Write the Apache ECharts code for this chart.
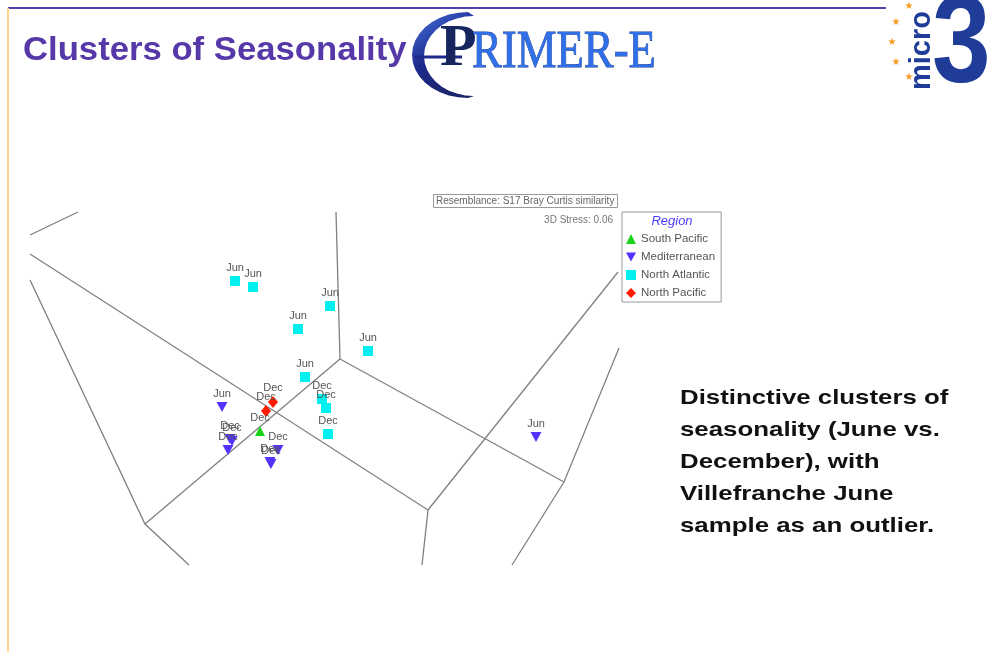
<!DOCTYPE html>
<html lang="en">
<head>
    <meta charset="UTF-8">
    <title>Clusters of Seasonality</title>
    <style type="text/css">
        *{ margin: 0; padding: 0; }
        html, body { width: 100%; height: 100%; background: #fff; }
        #chart { width: 987px; height: 652px; }
    </style>
</head>
<body>
<div id="chart"></div>
<script src="https://cdn.jsdelivr.net/npm/echarts@6/dist/echarts.min.js"></script>
<script>
    // 3D MDS ordination, projected coordinates
    // [x, y, label]
    var southPacific = [
        [-0.68, -0.46, 'Dec']
    ];
    var mediterranean = [
        [-1.06, -0.22, 'Jun'],
        [-0.98, -0.54, 'Dec'],
        [-0.96, -0.56, 'Dec'],
        [-1.00, -0.65, 'Dec'],
        [-0.50, -0.65, 'Dec'],
        [-0.58, -0.77, 'Dec'],
        [-0.57, -0.79, 'Dec'],
        [2.08, -0.52, 'Jun']
    ];
    var northAtlantic = [
        [-0.93, 1.04, 'Jun'],
        [-0.75, 0.98, 'Jun'],
        [0.02, 0.79, 'Jun'],
        [-0.30, 0.56, 'Jun'],
        [0.40, 0.34, 'Jun'],
        [-0.23, 0.08, 'Jun'],
        [-0.06, -0.14, 'Dec'],
        [-0.02, -0.23, 'Dec'],
        [0.00, -0.49, 'Dec']
    ];
    var northPacific = [
        [-0.55, -0.17, 'Dec'],
        [-0.62, -0.26, 'Dec']
    ];

    // edges of the 3D axis box, as projected polylines
    var boxEdges = [
        [[-2.98, 1.50], [-2.50, 1.73]],
        [[-2.98, 1.31], [1.00, -1.25], [0.94, -1.80]],
        [[-2.98, 1.05], [-1.83, -1.39], [-1.39, -1.80]],
        [[-1.83, -1.39], [0.12, 0.26]],
        [[0.08, 1.73], [0.12, 0.26]],
        [[0.12, 0.26], [2.36, -0.97]],
        [[2.91, 0.37], [2.36, -0.97], [1.84, -1.80]],
        [[1.00, -1.25], [2.90, 1.13]]
    ];

    var regions = ['South Pacific', 'Mediterranean', 'North Atlantic', 'North Pacific'];

    var FONT = '"Liberation Sans", Arial, sans-serif';
    var SERIF = '"Liberation Serif", "DejaVu Serif", serif';
    var downTri = 'path://M0,0 L10,0 L5,9 Z';

    function pts(arr) {
        return arr.map(function (d) { return { value: [d[0], d[1]], name: d[2] }; });
    }

    // crescent of the PRIMER-E logo
    function crescent() {
        var p = [], a;
        for (a = 270; a >= 90; a -= 10) {
            var r = a * Math.PI / 180;
            p.push([468 + 56 * Math.cos(r), 55 + 43 * Math.sin(r)]);
        }
        for (a = 90; a <= 270; a += 10) {
            var r2 = a * Math.PI / 180;
            p.push([474 + 50 * Math.cos(r2), 56 + 40 * Math.sin(r2)]);
        }
        return p;
    }

    function star(x, y) {
        return { type: 'text', x: x, y: y,
                 style: { text: '★', font: '10px "DejaVu Sans"', fill: '#f59a20', align: 'center', verticalAlign: 'middle' } };
    }

    var pointLabel = {
        show: true,
        position: 'top',
        distance: 3,
        formatter: '{b}',
        fontFamily: FONT,
        fontSize: 11,
        color: '#555'
    };

    var myChart = echarts.init(document.getElementById('chart'));

    var option = {
        backgroundColor: '#fff',
        animation: false,
        grid: { left: 28, top: 200, width: 600, height: 370 },
        xAxis: { type: 'value', min: -3, max: 3, show: false },
        yAxis: { type: 'value', min: -1.85, max: 1.85, show: false },
        legend: {
            orient: 'vertical',
            left: 622, top: 212,
            padding: [21, 6, 3, 4],
            itemWidth: 10, itemHeight: 10, itemGap: 6,
            borderColor: '#999', borderWidth: 1,
            textStyle: { fontFamily: FONT, fontSize: 11.5, color: '#555' },
            data: [
                { name: regions[0], icon: 'triangle' },
                { name: regions[1], icon: downTri },
                { name: regions[2], icon: 'rect' },
                { name: regions[3], icon: 'diamond' }
            ]
        },
        series: [
            {
                type: 'lines',
                coordinateSystem: 'cartesian2d',
                polyline: true,
                silent: true,
                lineStyle: { color: '#808080', width: 1.3, opacity: 1 },
                data: boxEdges.map(function (c) { return { coords: c }; }),
                z: 1
            },
            {
                name: regions[2], type: 'scatter', symbol: 'rect', symbolSize: 10,
                itemStyle: { color: '#00f0f0', opacity: 1 }, label: pointLabel,
                data: pts(northAtlantic), z: 3
            },
            {
                name: regions[1], type: 'scatter', symbol: downTri, symbolSize: [11, 10],
                itemStyle: { color: '#5533ff', opacity: 1 }, label: pointLabel,
                data: pts(mediterranean), z: 3
            },
            {
                name: regions[0], type: 'scatter', symbol: 'triangle', symbolSize: 10,
                itemStyle: { color: '#19d419', opacity: 1 }, label: pointLabel,
                data: pts(southPacific), z: 3
            },
            {
                name: regions[3], type: 'scatter', symbol: 'diamond', symbolSize: [10, 12],
                itemStyle: { color: '#ff1a00', opacity: 1 }, label: pointLabel,
                data: pts(northPacific), z: 3
            }
        ],
        graphic: [
            // slide frame
            { type: 'line', shape: { x1: 8, y1: 8, x2: 886, y2: 8 }, style: { stroke: '#5140b0', lineWidth: 2 } },
            { type: 'line', shape: { x1: 8, y1: 8, x2: 8, y2: 652 }, style: { stroke: '#ffd58a', lineWidth: 2 } },
            // slide title
            { type: 'text', x: 23, y: 51, scaleX: 1.02,
              style: { text: 'Clusters of Seasonality', font: 'bold 34px ' + FONT, fill: '#5638a8', verticalAlign: 'middle' } },
            // plot annotations
            { type: 'rect', shape: { x: 433.5, y: 194.5, width: 184, height: 13 },
              style: { fill: '#fff', stroke: '#999', lineWidth: 1 } },
            { type: 'text', x: 436, y: 201,
              style: { text: 'Resemblance: S17 Bray Curtis similarity', font: '10px ' + FONT, fill: '#666', verticalAlign: 'middle' } },
            { type: 'text', x: 613, y: 220,
              style: { text: '3D Stress: 0.06', font: '10px ' + FONT, fill: '#777', align: 'right', verticalAlign: 'middle' } },
            { type: 'text', x: 672, y: 221,
              style: { text: 'Region', font: 'italic 13px ' + FONT, fill: '#4a3cff', align: 'center', verticalAlign: 'middle' } },
            // side note
            { type: 'text', x: 680, y: 382, scaleX: 1.23,
              style: { text: 'Distinctive clusters of\nseasonality (June vs.\nDecember), with\nVillefranche June\nsample as an outlier.',
                       font: 'bold 21px ' + FONT, fill: '#111', lineHeight: 32, verticalAlign: 'top' } },
            // PRIMER-E logo
            { type: 'polygon', shape: { points: crescent() },
              style: { fill: new echarts.graphic.LinearGradient(0, 0, 1, 1, [
                  { offset: 0, color: '#4a78e8' }, { offset: 0.45, color: '#1c2a8c' }, { offset: 1, color: '#1a2260' }]) } },
            { type: 'line', shape: { x1: 414, y1: 57, x2: 462, y2: 57 }, style: { stroke: '#1c2a8c', lineWidth: 3 } },
            { type: 'text', x: 440, y: 79,
              style: { text: 'P', font: 'bold 60px ' + SERIF, fill: '#16255e', verticalAlign: 'bottom' } },
            { type: 'text', x: 472, y: 79, scaleX: 0.86,
              style: { text: 'RIMER-E', font: '52px ' + SERIF, fill: '#2f6fe8', stroke: '#1f3a90', lineWidth: 0.8,
                       shadowColor: 'rgba(20,20,40,0.6)', shadowOffsetX: 2, shadowOffsetY: 2, shadowBlur: 2,
                       verticalAlign: 'bottom' } },
            // micro3 logo
            { type: 'text', x: 932, y: 110, scaleX: 0.85,
              style: { text: '3', font: 'bold 124px ' + FONT, fill: '#1f3c98', verticalAlign: 'bottom' } },
            { type: 'text', x: 922, y: 90, rotation: Math.PI / 2,
              style: { text: 'micro', font: 'bold 29px ' + FONT, fill: '#1f3c98', verticalAlign: 'middle' } },
            star(909, 6), star(896, 22), star(892, 42), star(896, 62), star(909, 77)
        ]
    };

    myChart.setOption(option);
</script>
</body>
</html>
